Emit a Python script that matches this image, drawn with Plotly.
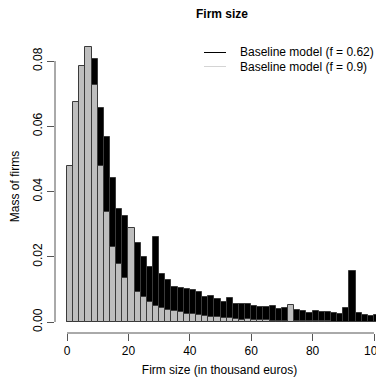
import plotly.graph_objects as go

bin_width = 2
bin_left = [2 * k for k in range(52)]

mass_f062 = [0.033, 0.055, 0.070, 0.078, 0.0805, 0.0655, 0.0568, 0.0442, 0.0345, 0.0325,
             0.028, 0.0241, 0.0200, 0.0170, 0.0262, 0.0146, 0.0129, 0.0106, 0.0103, 0.0100,
             0.0098, 0.0093, 0.0078, 0.0080, 0.0069, 0.0062, 0.0073, 0.0054, 0.0056, 0.0056,
             0.0050, 0.0046, 0.0045, 0.0048, 0.0040, 0.0044, 0.0042, 0.0037, 0.0035, 0.0029,
             0.0033, 0.0032, 0.0031, 0.0029, 0.0025, 0.0042, 0.0157, 0.0028, 0.0023, 0.0019,
             0.0023, 0.0029]

mass_f09 = [0.0479, 0.0675, 0.0785, 0.0842, 0.0727, 0.0479, 0.0336, 0.0229, 0.0178, 0.0134,
            0.0287, 0.0093, 0.0078, 0.0062, 0.0050, 0.0044, 0.0038, 0.0034, 0.0030, 0.0026,
            0.0026, 0.0021, 0.0017, 0.0015, 0.0015, 0.0011, 0.0011, 0.0008, 0.0007, 0.0008,
            0.0005, 0.0005, 0.0005, 0.0004, 0.0003, 0.0004, 0.0052, 0.0003, 0.0002, 0.0002,
            0.0002, 0.0002, 0.0002, 0.0001, 0.0001, 0.0001, 0.0001, 0.0001, 0.0001, 0.0001,
            0.0001, 0.0001]

x_ticks = [0, 20, 40, 60, 80, 100]
y_ticks = [0.00, 0.02, 0.04, 0.06, 0.08]
y_tick_text = ["0.00", "0.02", "0.04", "0.06", "0.08"]

series_names = ["Baseline model (f = 0.62)", "Baseline model (f = 0.9)"]

centers = [b + bin_width / 2 for b in bin_left]
font = "Liberation Sans, Arial, Helvetica, sans-serif"

fig = go.Figure()
fig.add_trace(go.Bar(x=centers, y=mass_f062, width=bin_width, name=series_names[0],
                     marker=dict(color="#000000", line=dict(color="#3a3a3a", width=1))))
fig.add_trace(go.Bar(x=centers, y=mass_f09, width=bin_width, name=series_names[1],
                     marker=dict(color="#bebebe", line=dict(color="#3a3a3a", width=1))))

OFF = 8  # page body margin
W, H = 384 - OFF, 380 - OFF
L, T = 55 - OFF, 40 - OFF
B = 47
R = 0
pw = W - L - R
ph = H - T - B
px_per_x = 3.07
px_per_y = 3262.0
x0_px = 67 - 55
y0_px = 322 - 40  # from top of plot area
xr = [-x0_px / px_per_x, (pw - x0_px) / px_per_x]
yr = [-(ph - y0_px) / px_per_y, y0_px / px_per_y]

axis_col = "#555555"
fig.update_layout(
    width=W, height=H,
    margin=dict(l=L, r=R, t=T, b=B, autoexpand=False),
    plot_bgcolor="white", paper_bgcolor="white",
    barmode="overlay", bargap=0, showlegend=False,
    font=dict(family=font, size=12, color="#000000"),
    xaxis=dict(range=xr, tickvals=x_ticks, ticks="outside", ticklen=7, tickcolor=axis_col,
               showgrid=False, zeroline=False, showline=False,
               tickfont=dict(size=12), automargin=False, ticklabeloverflow="allow",
               title=dict(text="Firm size (in thousand euros)", font=dict(size=12), standoff=8)),
    yaxis=dict(range=yr, tickvals=y_ticks, ticktext=y_tick_text, ticks="outside", ticklen=7,
               tickcolor=axis_col, tickangle=-90, showgrid=False, zeroline=False, showline=False,
               tickfont=dict(size=12), automargin=False, ticklabeloverflow="allow",
               title=dict(text="Mass of firms", font=dict(size=12), standoff=11)),
)

fig.add_shape(type="line", xref="x", yref="paper", x0=x_ticks[0], x1=x_ticks[-1], y0=0, y1=0,
              line=dict(color=axis_col, width=1))
fig.add_shape(type="line", xref="paper", yref="y", x0=0, x1=0, y0=y_ticks[0], y1=y_ticks[-1],
              line=dict(color=axis_col, width=1))

def px_x(wx):
    return (wx - OFF - L) / pw

def px_y(wy):
    return 1 - (wy - OFF - T) / ph

fig.add_annotation(text="<b>Firm size</b>", xref="paper", yref="paper",
                   x=px_x(222), y=px_y(14), showarrow=False,
                   xanchor="center", yanchor="middle", font=dict(size=12))

leg_colors = ["#000000", "#d4d4d4"]
leg_y = [52.5, 66.5]
for name, col, yy in zip(series_names, leg_colors, leg_y):
    yp = px_y(yy)
    fig.add_shape(type="line", xref="paper", yref="paper",
                  x0=px_x(204), x1=px_x(226), y0=yp, y1=yp,
                  line=dict(color=col, width=1))
    fig.add_annotation(text=name, xref="paper", yref="paper", x=px_x(238), y=yp,
                       showarrow=False, xanchor="left", yanchor="middle", font=dict(size=12))

fig.write_html("out.html")
